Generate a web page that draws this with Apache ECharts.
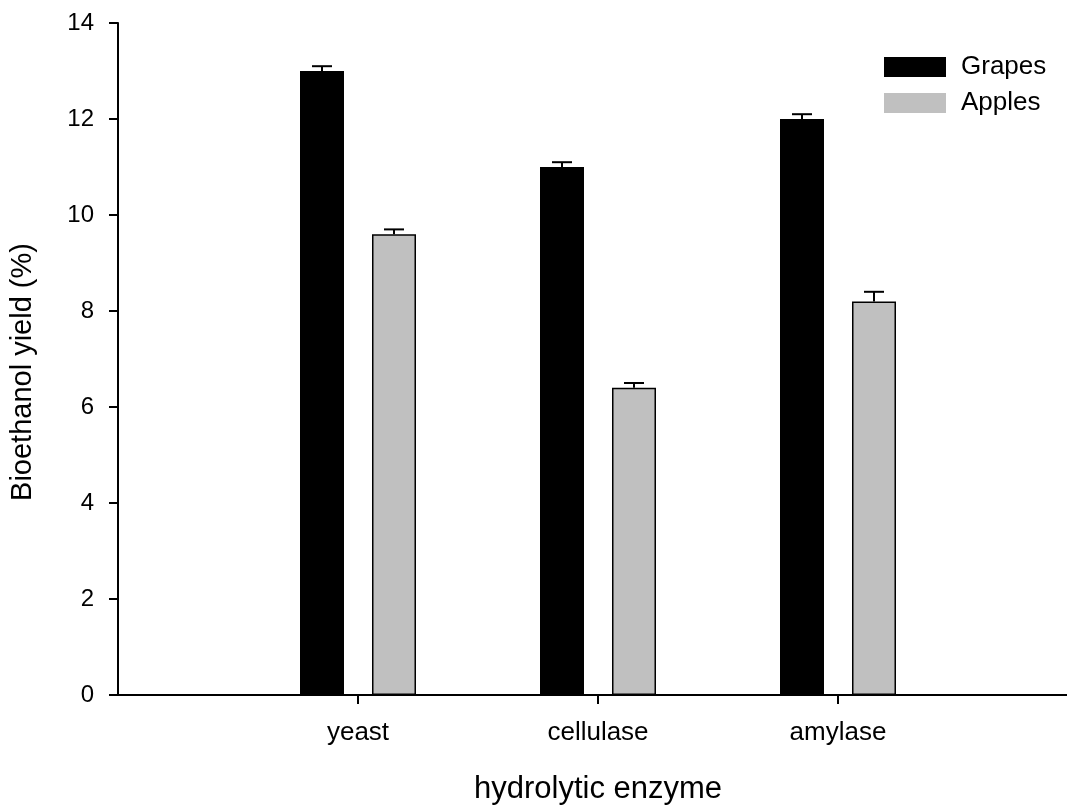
<!DOCTYPE html>
<html>
<head>
<meta charset="utf-8">
<script src="https://cdn.jsdelivr.net/npm/echarts@6/dist/echarts.min.js"></script>
<style>
html,body{margin:0;padding:0;background:#fff;}
#chart{width:1067px;height:805px;}
</style>
</head>
<body>
<div id="chart"></div>
<script>
const categories = ['yeast', 'cellulase', 'amylase'];
const grapes = [13.0, 11.0, 12.0];
const grapesErr = [0.1, 0.1, 0.1];
const apples = [9.6, 6.4, 8.2];
const applesErr = [0.1, 0.1, 0.2];
const yMin = 0, yMax = 14, yStep = 2;

const FONT = 'Liberation Sans, Arial, Helvetica, sans-serif';
const BAR_W = 44, BAR_GAP = 28;
const half = (BAR_W + BAR_GAP) / 2;

const axisCats = [''].concat(categories, ['']);
const pad = arr => ['-'].concat(arr, ['-']);

function errSeries(name, vals, errs, offset) {
  return {
    type: 'custom',
    name: name + ' err',
    z: 5,
    silent: true,
    data: vals.map((v, i) => [i + 1, v, errs[i]]),
    renderItem: function (params, api) {
      const x = api.value(0), v = api.value(1), e = api.value(2);
      const p0 = api.coord([x, v]);
      const p1 = api.coord([x, v + e]);
      const cx = p0[0] + offset;
      const capW = 10;
      return {
        type: 'group',
        children: [
          {type: 'line', shape: {x1: cx, y1: p0[1], x2: cx, y2: p1[1]}, style: {stroke: '#000', lineWidth: 2}},
          {type: 'line', shape: {x1: cx - capW, y1: p1[1], x2: cx + capW, y2: p1[1]}, style: {stroke: '#000', lineWidth: 2}}
        ]
      };
    }
  };
}

const chart = echarts.init(document.getElementById('chart'), null, {renderer: 'canvas'});
const catFilter = (idx, val) => val !== '';
chart.setOption({
  animation: false,
  backgroundColor: '#fff',
  grid: {left: 118, top: 23, height: 672, width: 960, containLabel: false, outerBoundsMode: 'none'},
  legend: {
    orient: 'vertical',
    left: 884,
    top: 54,
    padding: 0,
    itemWidth: 62,
    itemHeight: 20,
    itemGap: 10,
    icon: 'rect',
    data: [
      {name: 'Grapes', itemStyle: {color: '#000', borderWidth: 0}},
      {name: 'Apples', itemStyle: {color: '#c0c0c0', borderWidth: 0}}
    ],
    textStyle: {fontFamily: FONT, fontSize: 26, color: '#000', lineHeight: 26, padding: [0, 0, 0, 10]}
  },
  xAxis: {
    type: 'category',
    data: axisCats,
    boundaryGap: false,
    name: 'hydrolytic enzyme',
    nameLocation: 'middle',
    nameGap: 79,
    nameTextStyle: {fontFamily: FONT, fontSize: 31, color: '#000'},
    axisLine: {lineStyle: {color: '#000', width: 2}},
    axisTick: {show: true, inside: false, length: 9, interval: catFilter, lineStyle: {color: '#000', width: 2}},
    axisLabel: {interval: catFilter, margin: 25, fontFamily: FONT, fontSize: 26, color: '#000'},
    splitLine: {show: false}
  },
  yAxis: {
    type: 'value',
    min: yMin, max: yMax, interval: yStep,
    name: 'Bioethanol yield (%)',
    nameLocation: 'middle',
    nameGap: 81,
    nameTextStyle: {fontFamily: FONT, fontSize: 29, color: '#000', padding: [0, 26, 0, 0]},
    axisLine: {show: true, lineStyle: {color: '#000', width: 2}},
    axisTick: {show: true, inside: false, length: 9, lineStyle: {color: '#000', width: 2}},
    axisLabel: {margin: 24, fontFamily: FONT, fontSize: 24, color: '#000'},
    splitLine: {show: false}
  },
  series: [
    {
      type: 'bar', name: 'Grapes', data: pad(grapes),
      barWidth: BAR_W, barGap: (BAR_GAP / BAR_W * 100) + '%',
      itemStyle: {color: '#000', borderColor: '#000', borderWidth: 1.5}
    },
    {
      type: 'bar', name: 'Apples', data: pad(apples),
      barWidth: BAR_W,
      itemStyle: {color: '#c0c0c0', borderColor: '#000', borderWidth: 1.5}
    },
    errSeries('Grapes', grapes, grapesErr, -half),
    errSeries('Apples', apples, applesErr, half)
  ]
});
</script>
</body>
</html>
